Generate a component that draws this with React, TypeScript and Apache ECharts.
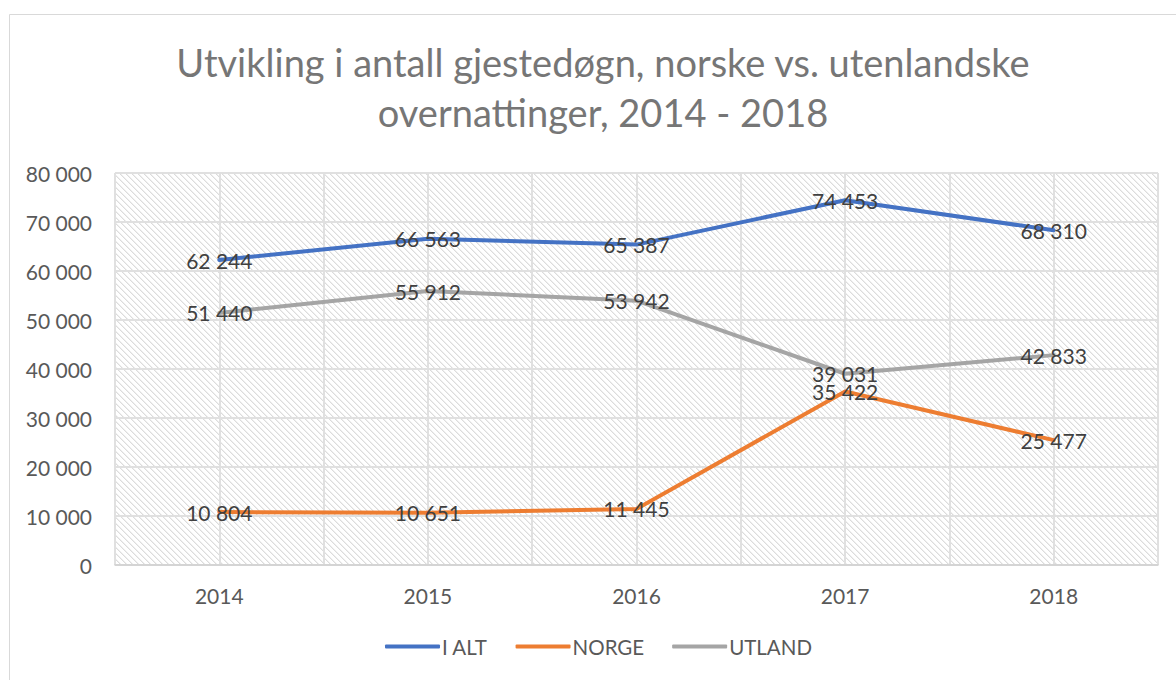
import React, { useEffect, useRef } from "react";
import * as echarts from "echarts";

const years = ["2014", "2015", "2016", "2017", "2018"];
const seriesNames = ["I ALT", "NORGE", "UTLAND"];
const iAlt = [62244, 66563, 65387, 74453, 68310];
const norge = [10804, 10651, 11445, 35422, 25477];
const utland = [51440, 55912, 53942, 39031, 42833];
const colors = ["#4472C4", "#ED7D31", "#A5A5A5"];
const titleLines = [
  "Utvikling i antall gjestedøgn, norske vs. utenlandske",
  "overnattinger, 2014 - 2018",
];

const fmt = (v: number) =>
  String(Math.round(v)).replace(/\B(?=(\d{3})+(?!\d))/g, " ");

function makeHatch(): HTMLCanvasElement {
  const c = document.createElement("canvas");
  const s = 6;
  c.width = s;
  c.height = s;
  const ctx = c.getContext("2d")!;
  ctx.fillStyle = "#ffffff";
  ctx.fillRect(0, 0, s, s);
  for (let i = 0; i < s; i++) {
    ctx.fillStyle = "#dcdcdc";
    ctx.fillRect(i, i, 1, 1);
    ctx.fillStyle = "#efefef";
    ctx.fillRect((i + 1) % s, i, 1, 1);
  }
  return c;
}

export default function App() {
  const ref = useRef<HTMLDivElement>(null);
  useEffect(() => {
    if (!ref.current) return;
    const chart = echarts.init(ref.current, undefined, { renderer: "svg" });
    const font = "Lato";
    const allData = [iAlt, norge, utland];
    chart.setOption({
      animation: false,
      backgroundColor: "#ffffff",
      textStyle: { fontFamily: font },
      title: {
        text: titleLines.join("\n"),
        left: 598,
        textAlign: "center",
        top: 32,
        textStyle: {
          fontFamily: font,
          fontSize: 38,
          fontWeight: "normal",
          color: "#767676",
          lineHeight: 50,
        },
      },
      graphic: [
        {
          type: "rect",
          shape: { x: 9.5, y: 14.5, width: 1300, height: 800 },
          style: { fill: "none", stroke: "#d9d9d9", lineWidth: 1 },
          silent: true,
          z: -10,
        },
      ],
      legend: {
        bottom: 18,
        left: 380,
        icon: "roundRect",
        itemWidth: 55,
        itemHeight: 4,
        itemGap: 28,
        data: seriesNames,
        textStyle: { fontFamily: font, fontSize: 20.5, color: "#595959", padding: [0, 0, 0, -3] },
      },
      grid: {
        left: 115,
        top: 173,
        right: 18,
        bottom: 115,
        show: true,
        borderColor: "#dcdcdc",
        borderWidth: 1,
        backgroundColor: {
          image: makeHatch(),
          repeat: "repeat",
          imageWidth: 6,
          imageHeight: 6,
        } as any,
      },
      xAxis: {
        type: "value",
        min: -0.5,
        max: 4.5,
        interval: 0.5,
        axisLine: { show: true, lineStyle: { color: "#d0d0d0", width: 1.5 } },
        axisTick: { show: false },
        splitLine: { show: true, lineStyle: { color: "#e0e0e0", width: 2 } },
        axisLabel: {
          fontFamily: font,
          fontSize: 21,
          color: "#595959",
          margin: 20,
          formatter: (v: number) =>
            Number.isInteger(v) && v >= 0 && v < years.length ? years[v] : "",
        },
      },
      yAxis: {
        type: "value",
        min: 0,
        max: 80000,
        interval: 10000,
        axisLine: { show: false },
        axisTick: { show: false },
        splitLine: { show: true, lineStyle: { color: "#e0e0e0", width: 2 } },
        axisLabel: {
          fontFamily: font,
          fontSize: 21,
          color: "#595959",
          margin: 23,
          formatter: (v: number) => fmt(v),
        },
      },
      series: seriesNames.map((name, si) => ({
        name,
        type: "line",
        data: allData[si].map((v, i) => [i, v]),
        symbol: "circle",
        symbolSize: 0,
        showSymbol: true,
        itemStyle: { color: colors[si] },
        lineStyle: { color: colors[si], width: 4, cap: "round", join: "round" },
        label: {
          show: true,
          position: "inside",
          fontFamily: font,
          fontSize: 21,
          color: "#404040",
          formatter: (p: any) => fmt(p.value[1]),
        },
        z: 3,
      })),
    });
    return () => chart.dispose();
  }, []);
  return (
    <div
      ref={ref}
      style={{ position: "fixed", left: 0, top: 0, width: 1176, height: 680 }}
    />
  );
}
